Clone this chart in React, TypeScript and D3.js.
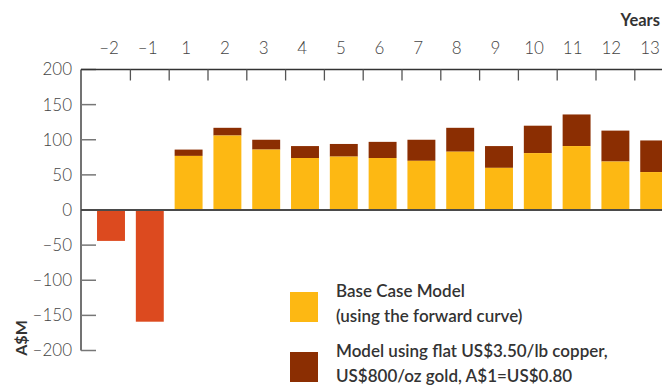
import React from "react";
import * as d3 from "d3";

const categories = ["-2", "-1", "1", "2", "3", "4", "5", "6", "7", "8", "9", "10", "11", "12", "13"];
const baseCase = [-44, -159, 77, 106, 86, 74, 76, 74, 70, 83, 60, 81, 91, 69, 54];
const flatPriceTotal = [null, null, 86, 117, 100, 91, 94, 97, 100, 117, 91, 120, 136, 113, 99];
const yTicks = [200, 150, 100, 50, 0, -50, -100, -150, -200];
const legendItems = [
  { lines: ["Base Case Model", "(using the forward curve)"], color: "#FDB813" },
  { lines: ["Model using flat US$3.50/lb copper,", "US$800/oz gold, A$1=US$0.80"], color: "#8B2E02" },
];

const W = 662;
const H = 385;
const FONT = "'Lato', 'DejaVu Sans', sans-serif";
const fmt = (s: string) => s.replace("-", "\u2013");

export default function App() {
  const x = d3.scaleBand<string>().domain(categories).range([91.6, 673.6]).paddingInner(0.28).paddingOuter(0.14);
  const y = d3.scaleLinear().domain([-200, 200]).range([350.5, 69.5]);
  const step = x.step();
  const gap = step * 0.28;
  const axisLeft = 81;
  const labelX = d3.scaleLinear().domain([0, categories.length - 1]).range([109, 650]);

  return (
    <svg width={W} height={H} style={{ position: "absolute", left: 0, top: 0, background: "#fff" }}>
      {/* bars */}
      {categories.map((c, i) => {
        const v = baseCase[i];
        const x0 = x(c)!;
        const bw = x.bandwidth();
        const els = [];
        if (v < 0) {
          els.push(<rect key="n" x={x0} y={y(0)} width={bw} height={y(v) - y(0)} fill="#DC4A1F" />);
        } else {
          const t = flatPriceTotal[i];
          if (t != null) {
            els.push(<rect key="t" x={x0} y={y(t)} width={bw} height={y(v) - y(t)} fill="#8B2E02" />);
          }
          els.push(<rect key="b" x={x0} y={y(v)} width={bw} height={y(0) - y(v)} fill="#FDB813" />);
        }
        return <g key={c}>{els}</g>;
      })}

      {/* zero line */}
      <line x1={axisLeft} x2={W} y1={y(0)} y2={y(0)} stroke="#4a4a4a" strokeWidth={2} />

      {/* y axis */}
      <line x1={axisLeft} x2={axisLeft} y1={y(200)} y2={y(-200)} stroke="#444" strokeWidth={1.5} />
      {yTicks.map((t) => (
        <g key={t}>
          {t !== 0 && <line x1={axisLeft} x2={axisLeft + 15} y1={y(t)} y2={y(t)} stroke="#777" strokeWidth={1.5} />}
          <text x={72} y={y(t)} dy="0.35em" textAnchor="end" fontFamily={FONT} fontWeight={300} fontSize={17} fill="#444">
            {fmt(String(t))}
          </text>
        </g>
      ))}

      {/* top axis */}
      <line x1={axisLeft} x2={W} y1={y(200)} y2={y(200)} stroke="#333" strokeWidth={1.5} />
      {categories.slice(1).map((c) => {
        const bx = x(c)! - gap / 2;
        return <line key={"tk" + c} x1={bx} x2={bx} y1={y(200)} y2={y(200) + 11} stroke="#555" strokeWidth={1.3} />;
      })}
      {categories.map((c, i) => (
        <text key={"lb" + c} x={labelX(i)} y={48} dy="0.35em" textAnchor="middle" fontFamily={FONT} fontWeight={300} fontSize={17} fill="#444">
          {fmt(c)}
        </text>
      ))}
      <text x={660} y={20} dy="0.35em" textAnchor="end" fontFamily={FONT} fontWeight={700} fontSize={16.5} fill="#333">
        Years
      </text>

      {/* y label */}
      <text transform="translate(21,338) rotate(-90)" dy="0.35em" textAnchor="middle" fontFamily={FONT} fontWeight={700} fontSize={16} fill="#333">
        A$M
      </text>

      {/* legend */}
      {legendItems.map((it, i) => {
        const top = 292 + i * 60;
        return (
          <g key={i}>
            <rect x={290} y={top} width={28} height={30} fill={it.color} />
            {it.lines.map((ln, j) => (
              <text key={j} x={336} y={top - 1 + j * 25} dy="0.35em" fontFamily={FONT} fontWeight={600} fontSize={17} fill="#333">
                {ln}
              </text>
            ))}
          </g>
        );
      })}
    </svg>
  );
}
